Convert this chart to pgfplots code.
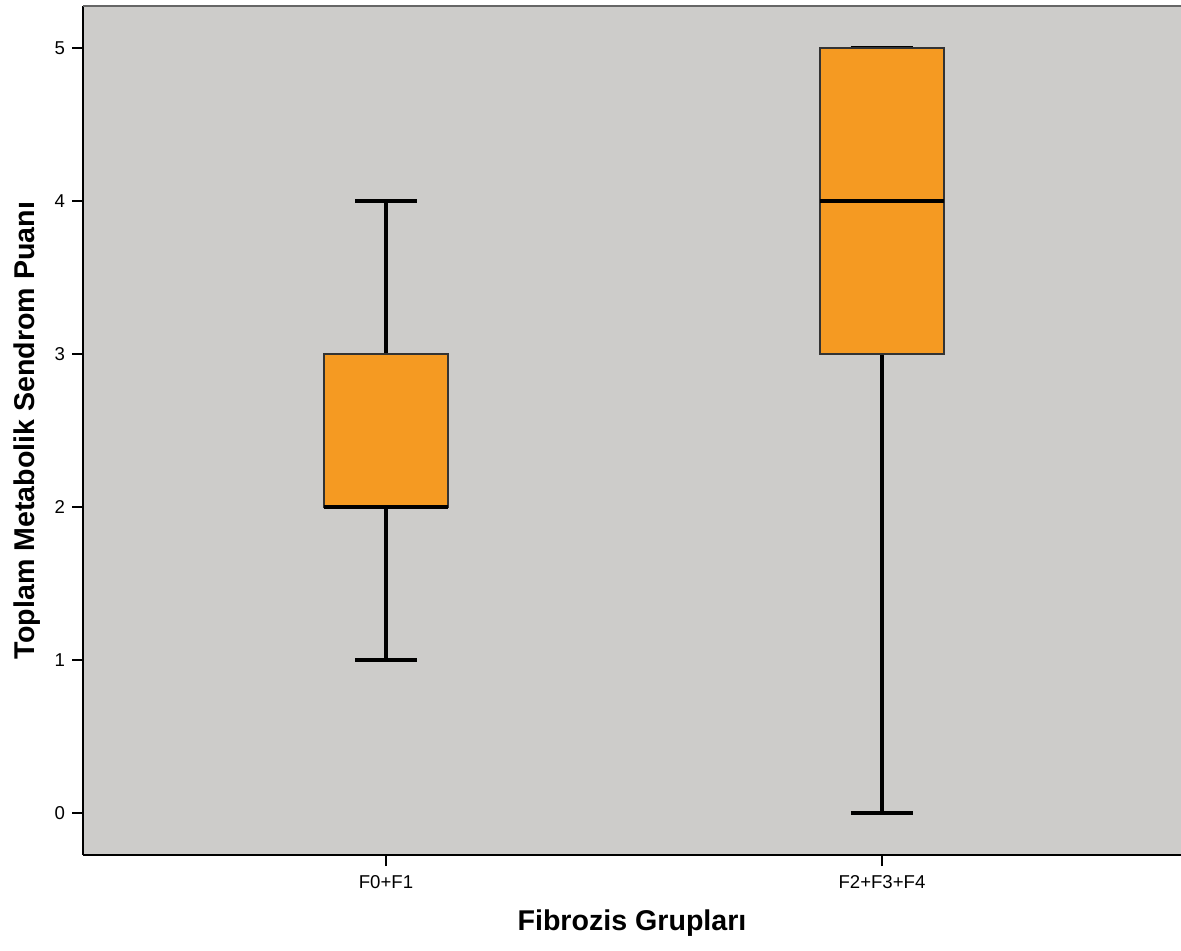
\documentclass[border=0pt]{standalone}
\usepackage{pgfplots}
\pgfplotsset{compat=1.18}
\usepgfplotslibrary{statistics}
\usepackage{fontspec}
\setmainfont{Liberation Sans}
\definecolor{bggray}{HTML}{CDCCCA}
\definecolor{boxorange}{HTML}{F59A22}
\begin{document}
\begin{tikzpicture}
\useasboundingbox (0,0) rectangle (590.5pt,475pt);
\begin{axis}[
  at={(41.5pt,47.5pt)}, anchor=south west,
  scale only axis, width=549pt, height=424.5pt,
  xmin=0.389, xmax=2.603, ymin=-0.2745, ymax=5.2745,
  axis x line*=bottom, axis y line*=left,
  axis line style={black, line width=0.8pt, -},
  axis background/.style={fill=bggray},
  xtick={1,2}, xticklabels={F0+F1, F2+F3+F4},
  ytick={0,1,2,3,4,5},
  tick align=outside, major tick length=5.5pt,
  tick style={black, line width=0.8pt},
  /pgf/number format/assume math mode=true,
  tick label style={font=\fontsize{9.3}{10}\selectfont},
  xticklabel style={yshift=-1pt},
  xlabel={\textbf{Fibrozis Grupları}},
  ylabel={\textbf{Toplam Metabolik Sendrom Puanı}},
  label style={font=\fontsize{14.3}{16}\selectfont},
  xlabel style={yshift=-4pt},
  ylabel style={yshift=0pt},
  clip=false,
  boxplot/draw direction=y,
  boxplot/box extend=0.25,
  boxplot/whisker extend=0.125,
  boxplot/every box/.style={draw=black!80, line width=0.7pt, fill=boxorange},
  boxplot/every whisker/.style={black, line width=1.7pt},
  boxplot/every median/.style={black, line width=2.4pt},
]
\addplot[boxplot prepared={draw position=1, lower whisker=1, lower quartile=2, median=2, upper quartile=3, upper whisker=4}] coordinates {};
\addplot[boxplot prepared={draw position=2, lower whisker=0, lower quartile=3, median=4, upper quartile=5, upper whisker=5}] coordinates {};
\draw[black!60, line width=1.2pt] (rel axis cs:0,1) -- (rel axis cs:1,1);
\end{axis}
\end{tikzpicture}
\end{document}
